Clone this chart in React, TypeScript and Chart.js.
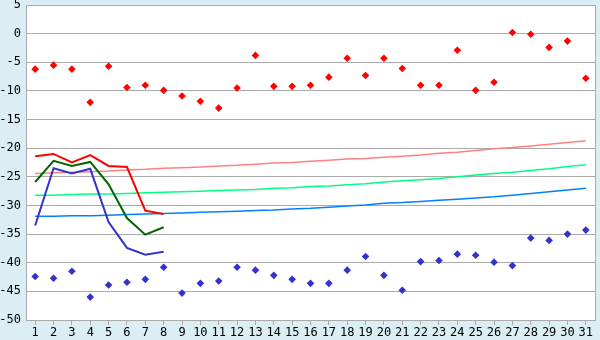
import React, { useEffect, useRef } from 'react';
import { Chart, registerables } from 'chart.js';

Chart.register(...registerables);

const dayLabels = ['1','2','3','4','5','6','7','8','9','10','11','12','13','14','15','16','17','18','19','20','21','22','23','24','25','26','27','28','29','30','31'];
const yTicks = [5, 0, -5, -10, -15, -20, -25, -30, -35, -40, -45, -50];

const recordMax = [-6.2,-5.5,-6.2,-12.0,-5.7,-9.4,-9.0,-9.9,-10.9,-11.8,-13.0,-9.5,-3.8,-9.2,-9.2,-9.0,-7.6,-4.3,-7.3,-4.3,-6.1,-9.0,-9.0,-2.9,-9.9,-8.5,0.2,-0.1,-2.4,-1.3,-7.8];
const recordMin = [-42.4,-42.7,-41.5,-46.0,-43.9,-43.4,-42.9,-40.8,-45.3,-43.6,-43.2,-40.8,-41.3,-42.2,-42.9,-43.6,-43.6,-41.3,-38.9,-42.2,-44.8,-39.8,-39.6,-38.5,-38.7,-39.9,-40.5,-35.7,-36.1,-35.0,-34.3];

const obsMax = [-21.4,-21.0,-22.5,-21.2,-23.1,-23.3,-30.9,-31.5];
const obsMean = [-25.9,-22.2,-23.1,-22.4,-26.3,-32.2,-35.1,-33.8];
const obsMin = [-33.5,-23.5,-24.4,-23.6,-32.9,-37.4,-38.6,-38.1];

const normMax = [-24.4,-24.3,-24.2,-24.1,-24.0,-23.8,-23.7,-23.5,-23.4,-23.3,-23.1,-23.0,-22.8,-22.6,-22.5,-22.3,-22.1,-21.9,-21.8,-21.6,-21.4,-21.2,-20.9,-20.7,-20.4,-20.1,-19.9,-19.6,-19.3,-19.0,-18.7];
const normMean = [-28.2,-28.2,-28.1,-28.0,-28.0,-27.9,-27.8,-27.7,-27.6,-27.5,-27.4,-27.3,-27.2,-27.0,-26.9,-26.7,-26.6,-26.4,-26.2,-25.9,-25.7,-25.5,-25.3,-25.0,-24.7,-24.4,-24.2,-23.9,-23.6,-23.2,-22.9];
const normMin = [-31.9,-31.9,-31.8,-31.8,-31.7,-31.6,-31.5,-31.4,-31.3,-31.2,-31.1,-31.0,-30.9,-30.8,-30.6,-30.5,-30.3,-30.1,-29.9,-29.6,-29.5,-29.3,-29.1,-28.9,-28.7,-28.5,-28.2,-27.9,-27.6,-27.3,-27.0];

const bgPlugin = {
  id: 'bgPlugin',
  beforeDraw(chart: any) {
    const { ctx, chartArea, width, height } = chart;
    ctx.save();
    ctx.fillStyle = '#DAEEF4';
    ctx.fillRect(0, 0, width, height);
    ctx.fillStyle = '#FFFFFF';
    ctx.fillRect(chartArea.left, chartArea.top, chartArea.right - chartArea.left, chartArea.bottom - chartArea.top);
    ctx.restore();
  },
  afterDraw(chart: any) {
    const { ctx, chartArea } = chart;
    ctx.save();
    ctx.strokeStyle = '#AAAAAA';
    ctx.lineWidth = 1;
    ctx.beginPath();
    ctx.moveTo(Math.round(chartArea.right) + 0.5, chartArea.top);
    ctx.lineTo(Math.round(chartArea.right) + 0.5, chartArea.bottom);
    ctx.stroke();
    ctx.restore();
  },
};

const pad = (arr: number[]) => arr.concat(new Array(dayLabels.length - arr.length).fill(null));

export default function App() {
  const ref = useRef<HTMLCanvasElement | null>(null);
  useEffect(() => {
    if (!ref.current) return;
    const font = { family: '"DejaVu Sans Mono", monospace', size: 12 };
    const chart = new Chart(ref.current, {
      type: 'line',
      data: {
        labels: dayLabels,
        datasets: [
          { data: recordMax, showLine: false, pointStyle: 'rectRot', pointRadius: 3.8, pointBackgroundColor: '#FF0000', pointBorderColor: '#FF0000', pointBorderWidth: 0, borderColor: '#FF0000' },
          { data: recordMin, showLine: false, pointStyle: 'rectRot', pointRadius: 3.8, pointBackgroundColor: '#3333CC', pointBorderColor: '#3333CC', pointBorderWidth: 0, borderColor: '#3333CC' },
          { data: pad(obsMax), borderColor: '#FF0000', borderWidth: 2, pointRadius: 0, tension: 0 },
          { data: pad(obsMean), borderColor: '#006600', borderWidth: 2, pointRadius: 0, tension: 0 },
          { data: pad(obsMin), borderColor: '#3333CC', borderWidth: 2, pointRadius: 0, tension: 0 },
          { data: normMax, borderColor: '#FF8080', borderWidth: 1.5, pointRadius: 0, tension: 0 },
          { data: normMean, borderColor: '#00FF80', borderWidth: 1.5, pointRadius: 0, tension: 0 },
          { data: normMin, borderColor: '#0080FF', borderWidth: 1.5, pointRadius: 0, tension: 0 },
        ],
      },
      options: {
        responsive: false,
        animation: false,
        devicePixelRatio: 1,
        layout: { padding: { left: 0, top: 5, right: 5, bottom: 0 } },
        plugins: { legend: { display: false }, tooltip: { enabled: false } },
        scales: {
          x: {
            type: 'category',
            offset: true,
            grid: { display: true, drawOnChartArea: false, drawTicks: true, tickLength: 5, offset: false, color: '#AAAAAA' },
            border: { display: true, color: '#AAAAAA' },
            ticks: { color: '#000000', font, padding: 1, maxRotation: 0, autoSkip: false },
            afterFit(scale: any) { scale.height = 20; scale.paddingLeft = 0; scale.paddingRight = 0; },
          },
          y: {
            min: -50,
            max: 5,
            afterBuildTicks(scale: any) { scale.ticks = yTicks.map((v) => ({ value: v })); },
            grid: { color: '#AAAAAA', drawTicks: false },
            border: { display: true, color: '#AAAAAA' },
            ticks: { color: '#000000', font, padding: 5 },
            afterFit(scale: any) { scale.width = 26; scale.paddingTop = 0; scale.paddingBottom = 0; },
          },
        },
      },
      plugins: [bgPlugin],
    } as any);
    return () => chart.destroy();
  }, []);
  return (
    <div style={{ position: 'fixed', left: 0, top: 0, width: 600, height: 340 }}>
      <canvas ref={ref} width={600} height={340} style={{ display: 'block' }} />
    </div>
  );
}
